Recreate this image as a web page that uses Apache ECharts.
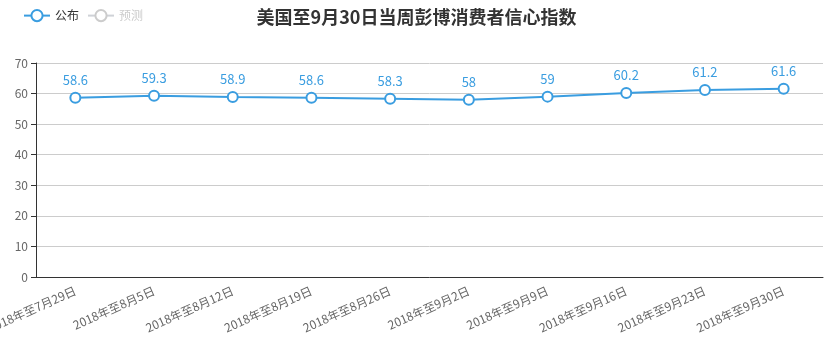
<!DOCTYPE html>
<html>
<head>
    <meta charset="utf-8">
    <title>彭博消费者信心指数</title>
    <style>
        html, body { margin: 0; padding: 0; }
        #main { width: 833px; height: 355px; }
    </style>
</head>
<body>
    <div id="main"></div>
    <script src="https://cdn.jsdelivr.net/npm/echarts@6/dist/echarts.min.js"></script>
    <script>
    // 数据
    var categories = ['2018年至7月29日', '2018年至8月5日', '2018年至8月12日', '2018年至8月19日', '2018年至8月26日',
        '2018年至9月2日', '2018年至9月9日', '2018年至9月16日', '2018年至9月23日', '2018年至9月30日'];
    var published = [58.6, 59.3, 58.9, 58.6, 58.3, 58, 59, 60.2, 61.2, 61.6];
    var forecast = [];

    var myChart = echarts.init(document.getElementById('main'));
    var option = {
        textStyle: { fontFamily: '"Noto Sans CJK SC", "Noto Sans", sans-serif' },
        title: {
            text: '美国至9月30日当周彭博消费者信心指数',
            left: 'center',
            top: 3,
            textStyle: { fontSize: 18, fontWeight: 'bold', color: '#333' }
        },
        legend: {
            left: 18,
            top: 4,
            itemWidth: 26,
            itemHeight: 14,
            itemGap: 8,
            textStyle: { fontSize: 12, color: '#333' },
            inactiveColor: '#ccc',
            data: ['公布', '预测'],
            selected: { '预测': false }
        },
        grid: { left: 36, right: 10, top: 63, bottom: 78, containLabel: false, outerBoundsMode: 'none' },
        xAxis: {
            type: 'category',
            data: categories,
            axisLine: { lineStyle: { color: '#333' } },
            axisTick: { lineStyle: { color: '#333' } },
            axisLabel: { rotate: 24, margin: 13, color: '#666', fontSize: 12, interval: 0 }
        },
        yAxis: {
            type: 'value',
            min: 0,
            max: 70,
            interval: 10,
            axisLine: { show: true, lineStyle: { color: '#333' } },
            axisTick: { show: true, lineStyle: { color: '#333' } },
            axisLabel: { color: '#666', fontSize: 12 },
            splitLine: { lineStyle: { color: '#ccc' } }
        },
        series: [
            {
                name: '公布',
                type: 'line',
                data: published,
                symbol: 'emptyCircle',
                symbolSize: 10,
                itemStyle: { color: '#3a9de0' },
                lineStyle: { width: 2, color: '#3a9de0' },
                label: { show: true, position: 'top', distance: 5, color: '#3a9de0', fontSize: 13 }
            },
            {
                name: '预测',
                type: 'line',
                data: forecast,
                symbol: 'emptyCircle',
                symbolSize: 10,
                itemStyle: { color: '#bbb' }
            }
        ]
    };
    myChart.setOption(option);
    </script>
</body>
</html>
